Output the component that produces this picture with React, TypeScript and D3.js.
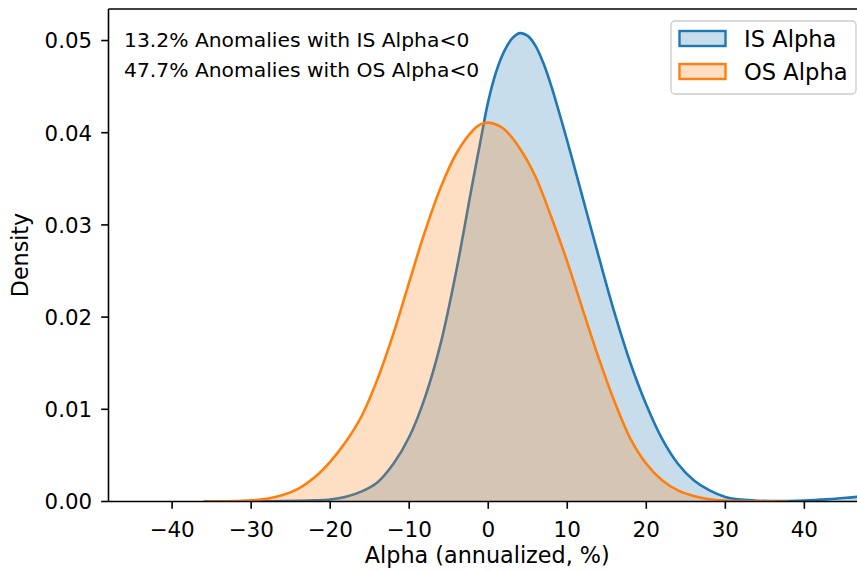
import React from "react";
import * as d3 from "d3";

// ---- data ----
const isX = [-36, -34, -32, -30, -28, -26, -24, -22, -20, -18, -16, -14, -12, -10, -8, -6, -4, -2, -1, 0, 1, 2, 3, 4, 5, 6, 7, 8, 10, 12, 14, 16, 18, 20, 22, 24, 26, 28, 30, 32, 34, 36, 38, 40, 42, 44, 46, 48, 50];
const isDensity = [0, 0.00001, 0.00001, 0.00002, 0.00003, 0.00004, 0.00007, 0.00012, 0.00022, 0.00052, 0.0011, 0.0021, 0.0041, 0.007, 0.0113, 0.0172, 0.0252, 0.0345, 0.039, 0.0434, 0.0466, 0.0488, 0.0502, 0.0508, 0.0505, 0.0494, 0.0475, 0.045, 0.0391, 0.0328, 0.0265, 0.0204, 0.015, 0.0105, 0.0068, 0.0041, 0.0023, 0.0012, 0.0005, 0.0002, 0.00008, 0.00005, 0.00006, 0.0001, 0.0002, 0.0003, 0.00045, 0.0006, 0.0007];

const osX = [-36, -34, -32, -30, -28, -26, -24, -22, -20, -18, -16, -14, -12, -10, -8, -6, -4, -2, -1, 0, 1, 2, 4, 6, 8, 10, 12, 14, 16, 18, 20, 22, 24, 26, 28, 30, 32, 34, 36, 38];
const osDensity = [0, 0.00002, 0.00005, 0.00012, 0.0003, 0.0007, 0.0014, 0.0026, 0.0043, 0.0065, 0.0093, 0.0133, 0.0182, 0.0238, 0.0293, 0.0341, 0.0378, 0.0402, 0.0409, 0.0411, 0.0409, 0.0404, 0.0383, 0.0352, 0.0308, 0.026, 0.0207, 0.0155, 0.0108, 0.0068, 0.0041, 0.0023, 0.0012, 0.0006, 0.00025, 0.0001, 0.00004, 0.00002, 0.00001, 0];

const seriesNames = ["IS Alpha", "OS Alpha"];
const seriesColors = ["#1f77b4", "#ff7f0e"];
const annotations = ["13.2% Anomalies with IS Alpha<0", "47.7% Anomalies with OS Alpha<0"];

const xTicks = [-40, -30, -20, -10, 0, 10, 20, 30, 40];
const yTicks = [0, 0.01, 0.02, 0.03, 0.04, 0.05];

const W = 857;
const H = 572;
const L = 108.5;
const R = 866;
const T = 9;
const B = 501.5;
const FONT = "DejaVu Sans, sans-serif";

export default function App() {
  const x = d3.scaleLinear().domain([-48.05, 47.8]).range([L, R]);
  const y = d3.scaleLinear().domain([0, 0.05342]).range([B, T]);

  const series = [
    isX.map((v, i) => [v, isDensity[i]] as [number, number]),
    osX.map((v, i) => [v, osDensity[i]] as [number, number]),
  ];

  const curve = d3.curveCatmullRom.alpha(0.5);
  const area = d3
    .area<[number, number]>()
    .x((d) => x(d[0]))
    .y0(y(0))
    .y1((d) => y(d[1]))
    .curve(curve);
  const line = d3
    .line<[number, number]>()
    .x((d) => x(d[0]))
    .y((d) => y(d[1]))
    .curve(curve);

  const fmt = (v: number) => (v < 0 ? "\u2212" + Math.abs(v) : String(v));

  return (
    <svg
      width={W}
      height={H}
      style={{ position: "absolute", left: 0, top: 0, display: "block", background: "#fff" }}
      fontFamily={FONT}
    >
      <defs>
        <clipPath id="plotclip">
          <rect x={L} y={T} width={R - L} height={B - T} />
        </clipPath>
      </defs>
      <rect x={0} y={0} width={W} height={H} fill="#fff" />
      <g clipPath="url(#plotclip)">
        {series.map((s, i) => (
          <g key={i}>
            <path d={area(s) || ""} fill={seriesColors[i]} fillOpacity={0.25} />
            <path d={line(s) || ""} fill="none" stroke={seriesColors[i]} strokeWidth={2.6} strokeLinejoin="round" />
          </g>
        ))}
      </g>

      {/* spines */}
      <line x1={L} x2={L} y1={T} y2={B} stroke="#000" strokeWidth={1.6} />
      <line x1={L} x2={R} y1={B} y2={B} stroke="#000" strokeWidth={1.6} />
      <line x1={L} x2={R} y1={T} y2={T} stroke="#000" strokeWidth={1.6} />
      <line x1={R} x2={R} y1={T} y2={B} stroke="#000" strokeWidth={1.6} />

      {/* x ticks */}
      {xTicks.map((t) => (
        <g key={"x" + t}>
          <line x1={x(t)} x2={x(t)} y1={B} y2={B + 7.3} stroke="#000" strokeWidth={1.6} />
          <text x={x(t)} y={536.5} fontSize={21.5} textAnchor="middle" fill="#000">
            {fmt(t)}
          </text>
        </g>
      ))}
      {/* y ticks */}
      {yTicks.map((t) => (
        <g key={"y" + t}>
          <line x1={L - 7.3} x2={L} y1={y(t)} y2={y(t)} stroke="#000" strokeWidth={1.6} />
          <text x={92} y={y(t) + 7.8} fontSize={21.3} textAnchor="end" fill="#000">
            {t.toFixed(2)}
          </text>
        </g>
      ))}

      {/* axis labels */}
      <text x={(L + R) / 2} y={563} fontSize={22.3} textAnchor="middle" fill="#000">
        Alpha (annualized, %)
      </text>
      <text transform={`translate(28,255) rotate(-90)`} fontSize={22.2} textAnchor="middle" fill="#000">
        Density
      </text>

      {/* annotations */}
      {annotations.map((a, i) => (
        <text key={a} x={124} y={46.5 + i * 30.5} fontSize={20.3} fill="#000">
          {a}
        </text>
      ))}

      {/* legend */}
      <rect x={671} y={21} width={185} height={73} rx={4} ry={4} fill="#fff" fillOpacity={0.8} stroke="#cccccc" strokeWidth={1.3} />
      {seriesNames.map((n, i) => (
        <g key={n}>
          <rect
            x={679.5}
            y={31 + i * 33}
            width={46}
            height={15}
            fill={seriesColors[i]}
            fillOpacity={0.25}
            stroke={seriesColors[i]}
            strokeWidth={2.4}
          />
          <text x={744} y={46.5 + i * 33} fontSize={22.6} fill="#000">
            {n}
          </text>
        </g>
      ))}
    </svg>
  );
}
